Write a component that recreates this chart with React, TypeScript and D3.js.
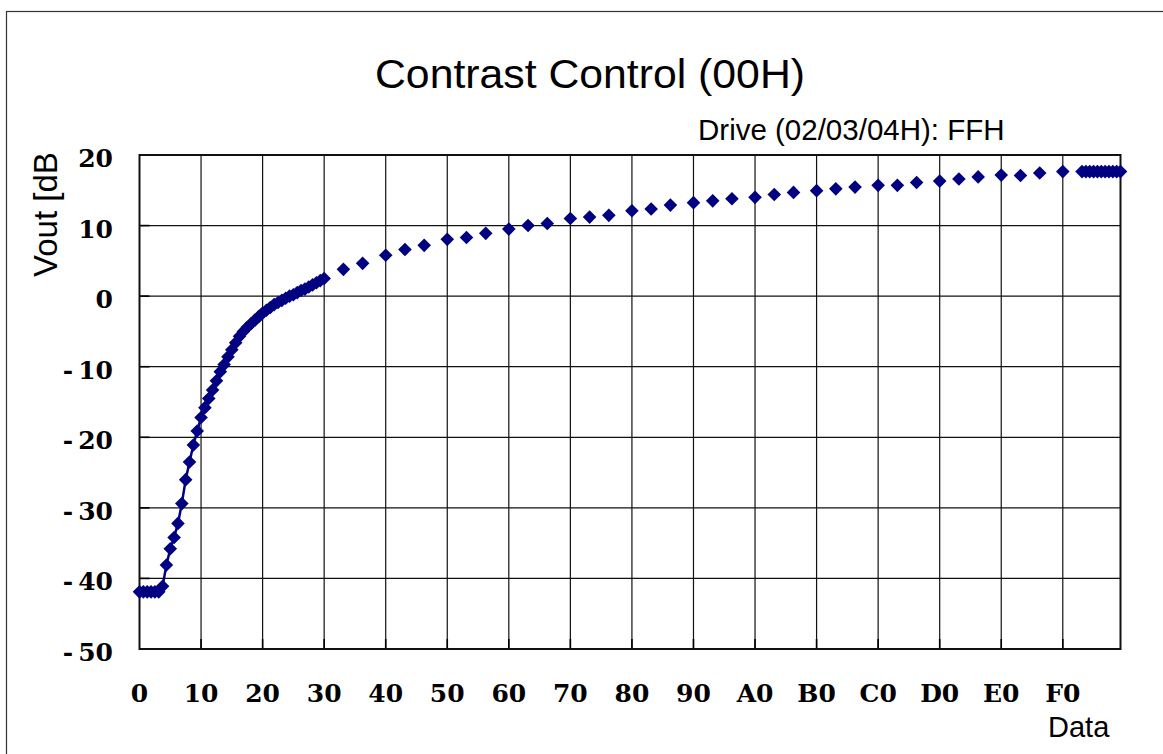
import React from "react";
import * as d3 from "d3";

const codes = [
  0, 1, 2, 3, 4, 5, 6, 7, 8, 9, 10, 11, 12, 13, 14, 15, 16, 17, 18, 19, 20, 21, 22, 23, 24,
  25, 26, 27, 28, 29, 30, 31, 32, 33, 34, 35, 36, 37, 38, 39, 40, 41, 42, 43, 44, 45, 46, 47, 48,
  53, 58, 64, 69, 74, 80, 85, 90, 96, 101, 106, 112, 117, 122, 128, 133, 138, 144, 149, 154,
  160, 165, 170, 176, 181, 186, 192, 197, 202, 208, 213, 218, 224, 229, 234, 240,
  245, 246, 247, 248, 249, 250, 251, 252, 253, 254, 255,
];
const vout = [
  -41.9, -41.9, -41.9, -41.9, -41.9, -41.9, -41.1, -38.1, -35.8, -34.2, -32.2, -29.4, -26.0,
  -23.5, -21.1, -19.1, -17.2, -15.8, -14.5, -13.3, -12.0, -10.7, -9.7, -8.6, -7.6,
  -6.6, -5.7, -5.0, -4.4, -3.9, -3.4, -2.9, -2.4, -2.0, -1.6, -1.2, -0.9, -0.6, -0.3, 0.0, 0.2,
  0.5, 0.8, 1.0, 1.3, 1.6, 1.9, 2.2, 2.5,
  3.8, 4.65, 5.8, 6.6, 7.2, 8.05, 8.3, 8.9, 9.5, 10.0, 10.3, 11.0, 11.2, 11.45, 12.1, 12.35,
  12.9, 13.25, 13.5, 13.8, 14.0, 14.4, 14.7, 14.95, 15.2, 15.45, 15.7, 15.7, 16.1, 16.3, 16.6,
  16.9, 17.15, 17.1, 17.45, 17.65,
  17.65, 17.65, 17.65, 17.65, 17.65, 17.65, 17.65, 17.65, 17.65, 17.65, 17.65,
];

const xTickValues = [0, 16, 32, 48, 64, 80, 96, 112, 128, 144, 160, 176, 192, 208, 224, 240];
const xTickLabels = ["0", "10", "20", "30", "40", "50", "60", "70", "80", "90", "A0", "B0", "C0", "D0", "E0", "F0"];
const yTickValues = [20, 10, 0, -10, -20, -30, -40, -50];

const title = "Contrast Control (00H)";
const subtitle = "Drive (02/03/04H): FFH";
const xTitle = "Data";
const yTitle = "Vout [dB]";

const NAVY = "#000080";
const LEFT = 139.5, RIGHT = 1120.5, TOP = 155, BOTTOM = 649;

export default function App() {
  const x = d3.scaleLinear().domain([0, 255]).range([LEFT, RIGHT]);
  const y = d3.scaleLinear().domain([-50, 20]).range([BOTTOM, TOP]);

  const pts = codes.map((c, i) => ({ c, v: vout[i] }));
  // connect only consecutive codes (gaps in the sampled data break the line)
  const segments: { c: number; v: number }[][] = [];
  pts.forEach((p, i) => {
    if (i === 0 || p.c - pts[i - 1].c > 1) segments.push([p]);
    else segments[segments.length - 1].push(p);
  });
  const line = d3.line<{ c: number; v: number }>().x((d) => x(d.c)).y((d) => y(d.v));
  const diamond = "M0,-6.8L6.8,0L0,6.8L-6.8,0Z";
  const tickFont = "'DejaVu Serif', serif";

  return (
    <svg width={1163} height={754} style={{ position: "absolute", left: 0, top: 0, background: "#fff" }}>
      <defs>
        <clipPath id="ylab">
          <rect x={0} y={153} width={100} height={300} />
        </clipPath>
      </defs>
      <rect x={6.5} y={11.5} width={1300} height={900} fill="#fff" stroke="#333" strokeWidth={1.2} />

      {/* gridlines */}
      {xTickValues.slice(1).map((t) => (
        <line key={"gx" + t} x1={x(t)} x2={x(t)} y1={TOP} y2={BOTTOM} stroke="#111" strokeWidth={1.2} />
      ))}
      {yTickValues.map((t) => (
        <line key={"gy" + t} x1={LEFT} x2={RIGHT} y1={y(t)} y2={y(t)} stroke="#111" strokeWidth={1.2} />
      ))}
      {/* inner ticks */}
      {xTickValues.slice(1).map((t) => (
        <line key={"tx" + t} x1={x(t)} x2={x(t)} y1={BOTTOM} y2={BOTTOM - 10} stroke="#000" strokeWidth={1.6} />
      ))}
      {yTickValues.map((t) => (
        <line key={"ty" + t} x1={LEFT} x2={LEFT + 10} y1={y(t)} y2={y(t)} stroke="#000" strokeWidth={1.6} />
      ))}
      <rect x={LEFT} y={TOP} width={RIGHT - LEFT} height={BOTTOM - TOP} fill="none" stroke="#111" strokeWidth={2} />

      {/* series */}
      {segments.filter((s) => s.length > 1).map((s, i) => (
        <path key={"seg" + i} d={line(s) || ""} fill="none" stroke={NAVY} strokeWidth={2.5} />
      ))}
      {pts.map((p, i) => (
        <path key={"m" + i} d={diamond} transform={`translate(${x(p.c)},${y(p.v)})`} fill={NAVY} />
      ))}

      {/* tick labels */}
      {xTickValues.map((t, i) => (
        <text key={"lx" + t} x={x(t)} y={702} textAnchor="middle" fontFamily={tickFont} fontWeight="bold" fontSize={25} fill="#000">
          {xTickLabels[i]}
        </text>
      ))}
      {yTickValues.map((t) => (
        <text key={"ly" + t} x={113} y={y(t) + 12} textAnchor="end" fontFamily={tickFont} fontWeight="bold" fontSize={25} fill="#000">
          {t < 0 ? (
            <>
              <tspan>-</tspan>
              <tspan dx={5}>{String(Math.abs(t))}</tspan>
            </>
          ) : (
            String(t)
          )}
        </text>
      ))}

      {/* titles */}
      <text x={375} y={88} fontFamily="'Liberation Sans', Arial, sans-serif" fontSize={41} textLength={430} lengthAdjust="spacingAndGlyphs" fill="#000">
        {title}
      </text>
      <text x={698} y={140} fontFamily="'Liberation Sans', Arial, sans-serif" fontSize={29.5} fill="#000">
        {subtitle}
      </text>
      <text x={1048} y={737} fontFamily="'Liberation Sans', Arial, sans-serif" fontSize={29} fill="#000">
        {xTitle}
      </text>
      <g clipPath="url(#ylab)">
        <text transform="translate(57,277) rotate(-90)" fontFamily="'Liberation Sans', Arial, sans-serif" fontSize={33} fill="#000">
          {yTitle}
        </text>
      </g>
    </svg>
  );
}
